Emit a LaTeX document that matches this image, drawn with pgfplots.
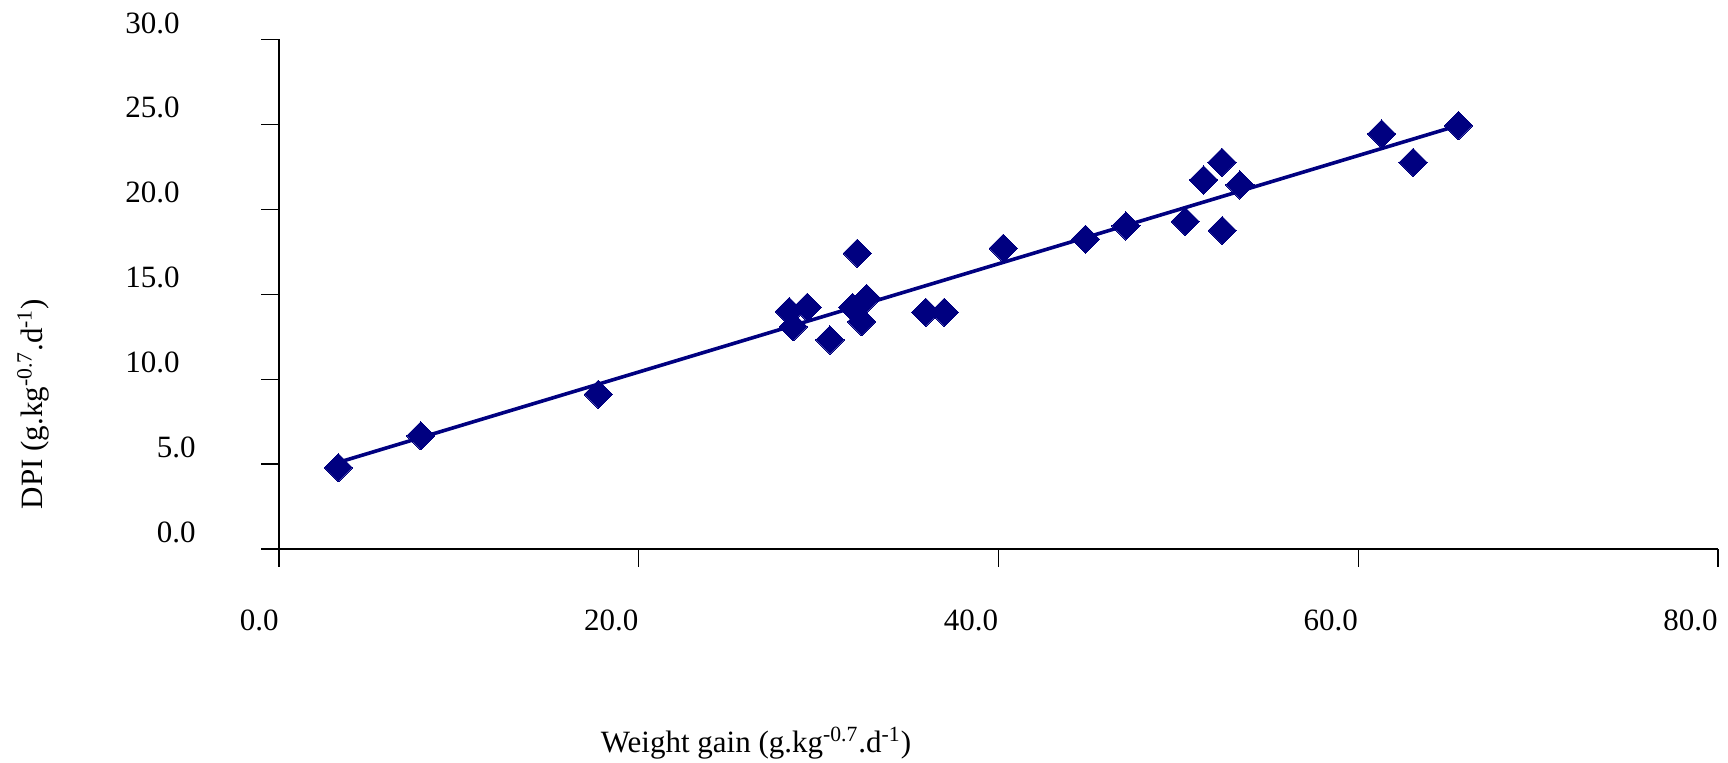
\documentclass[border=0pt]{standalone}
\usepackage{fontspec}
\setmainfont{Liberation Serif}
\usepackage{pgfplots}
\pgfplotsset{compat=1.18}
\definecolor{navy}{RGB}{0,0,128}
\begin{document}
\fontsize{15.5}{18}\selectfont
\begin{tikzpicture}
\path[use as bounding box] (0,0) rectangle (864pt,381.5pt);
\begin{axis}[
 at={(139.5pt,107pt)}, anchor=south west,
 scale only axis, width=719.5pt, height=254.75pt,
 xmin=0,xmax=80,ymin=0,ymax=30,
 axis lines=left, axis line style={-, line width=0.6pt},
 tick align=outside, major tick length=9pt, tick style={line width=0.6pt, black},
 xtick={0,20,40,60,80}, ytick={0,5,10,15,20,25,30},
 xticklabels={0.0,20.0,40.0,60.0,80.0},
 yticklabels={0.0,5.0,10.0\kern8pt,15.0\kern8pt,20.0\kern8pt,25.0\kern8pt,30.0\kern8pt},
 x tick label style={anchor=east, inner sep=0pt, yshift=-26.5pt},
 y tick label style={anchor=east, inner sep=0pt, xshift=-32.5pt, yshift=8.25pt},
 xlabel={Weight gain (g.kg\textsuperscript{-0.7}.d\textsuperscript{-1})},
 ylabel={DPI (g.kg\textsuperscript{-0.7}.d\textsuperscript{-1})},
 xlabel style={at={(rel axis cs:0.3315,-0.3808)}, anchor=center},
 ylabel style={at={(rel axis cs:-0.1709,0.2846)}, anchor=center},
 clip=false,
]
\addplot[navy, line width=1.8pt, no marks] coordinates {(3.3,5.1) (65.6,24.95)};
\addplot[only marks, mark=square*, mark size=5pt, mark options={rotate=45, fill=navy, draw=navy, line width=0pt}] coordinates {
(3.30,4.79)
(7.88,6.67)
(17.75,9.11)
(28.37,13.98)
(29.37,14.23)
(28.59,13.09)
(30.63,12.31)
(32.15,17.41)
(31.89,14.23)
(32.67,14.76)
(32.39,13.39)
(35.95,13.94)
(36.98,13.94)
(40.26,17.71)
(44.84,18.24)
(47.08,19.02)
(50.38,19.28)
(52.44,18.75)
(51.40,21.73)
(52.42,22.77)
(53.42,21.44)
(61.30,24.44)
(63.05,22.77)
(65.57,24.93)
};
\end{axis}
\end{tikzpicture}
\end{document}
